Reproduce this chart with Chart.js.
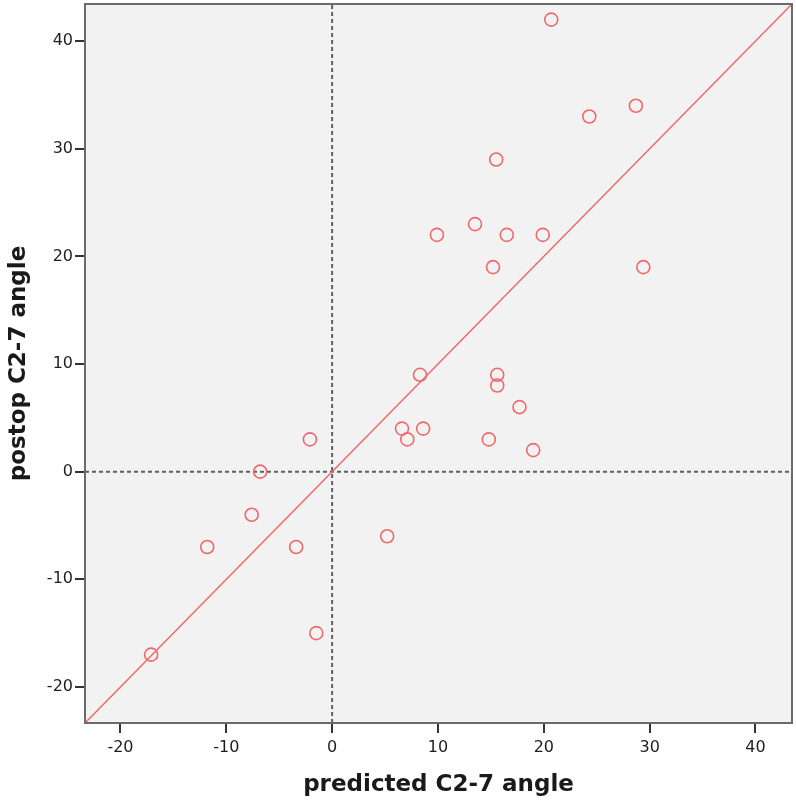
<!DOCTYPE html>
<html>
<head>
<meta charset="utf-8">
<script src="https://cdn.jsdelivr.net/npm/chart.js@4"></script>
<style>
	html, body { margin: 0; padding: 0; background: #fff; }
	#wrap { width: 796px; height: 800px; }
</style>
</head>
<body>
<div id="wrap"><canvas id="chart" width="796" height="800"></canvas></div>
<script>
// data
const predicted = [20.7, 24.3, 28.7, 15.5, 13.5, 9.9, 16.5, 19.9, 15.2, 29.4, 8.3, 15.6, 15.6, 17.7, 6.6, 8.6, 7.1, 14.8, 19.0, -2.1, -6.8, -7.6, -11.8, -3.4, 5.2, -1.5, -17.1];
const postop = [42, 33, 34, 29, 23, 22, 22, 22, 19, 19, 9, 9, 8, 6, 4, 4, 3, 3, 2, 3, 0, -4, -7, -7, -6, -15, -17];
const tickValues = [-20, -10, 0, 10, 20, 30, 40];
const axisMin = -23.35;
const axisMax = 43.45;

const RED = '#f0686a';
const FONT = 'DejaVu Sans';

const points = predicted.map((x, i) => ({ x, y: postop[i] }));

// plot background + frame
const plotFrame = {
	id: 'plotFrame',
	beforeDraw(chart) {
		const { ctx, chartArea: a } = chart;
		ctx.save();
		ctx.fillStyle = '#f2f2f2';
		ctx.fillRect(a.left, a.top, a.right - a.left, a.bottom - a.top);
		ctx.restore();
	},
	afterDraw(chart) {
		const { ctx, chartArea: a } = chart;
		ctx.save();
		ctx.strokeStyle = '#6b6b6b';
		ctx.lineWidth = 2;
		ctx.strokeRect(a.left, a.top, a.right - a.left, a.bottom - a.top);
		ctx.restore();
	},
};

function axis(title, isX) {
	return {
		type: 'linear',
		min: axisMin,
		max: axisMax,
		afterBuildTicks: (s) => { s.ticks = tickValues.map((v) => ({ value: v })); },
		afterFit: (s) => {
			// no extra room for label overflow, the end ticks sit well inside
			if (isX) {
				s.height = 77;
				s.paddingLeft = 0;
				s.paddingRight = 0;
			} else {
				s.width = 85;
				s.paddingTop = 0;
				s.paddingBottom = 0;
			}
		},
		grid: { drawOnChartArea: false, drawTicks: true, tickLength: 10, color: '#333', lineWidth: 2 },
		border: { display: true, color: '#6b6b6b', width: 2 },
		ticks: { font: { family: FONT, size: 16 }, color: '#1e1e1e', padding: isX ? 5 : 2, maxRotation: 0 },
		title: {
			display: true,
			text: title,
			color: '#1a1a1a',
			font: { family: FONT, size: 23, weight: 'bold' },
			padding: isX ? { top: 0, bottom: 1 } : { top: 5, bottom: 0 },
		},
	};
}

new Chart(document.getElementById('chart'), {
	type: 'scatter',
	data: {
		datasets: [
			{
				data: points,
				pointRadius: 6.5,
				pointHoverRadius: 6.5,
				borderColor: RED,
				backgroundColor: 'transparent',
				borderWidth: 1.6,
			},
			{
				type: 'line',
				data: [{ x: axisMin, y: axisMin }, { x: axisMax, y: axisMax }],
				borderColor: RED,
				borderWidth: 1.5,
				pointRadius: 0,
			},
			{
				type: 'line',
				data: [{ x: 0, y: axisMin }, { x: 0, y: axisMax }],
				borderColor: '#5f5f5f',
				borderWidth: 2,
				borderDash: [4, 3],
				pointRadius: 0,
			},
			{
				type: 'line',
				data: [{ x: axisMin, y: 0 }, { x: axisMax, y: 0 }],
				borderColor: '#5f5f5f',
				borderWidth: 2,
				borderDash: [4, 3],
				pointRadius: 0,
			},
		],
	},
	options: {
		responsive: false,
		animation: false,
		devicePixelRatio: 1,
		layout: { autoPadding: false, padding: { top: 4, right: 4, left: 0, bottom: 0 } },
		plugins: { legend: { display: false }, tooltip: { enabled: false } },
		scales: {
			x: axis('predicted C2-7 angle', true),
			y: axis('postop C2-7 angle', false),
		},
	},
	plugins: [plotFrame],
});
</script>
</body>
</html>
